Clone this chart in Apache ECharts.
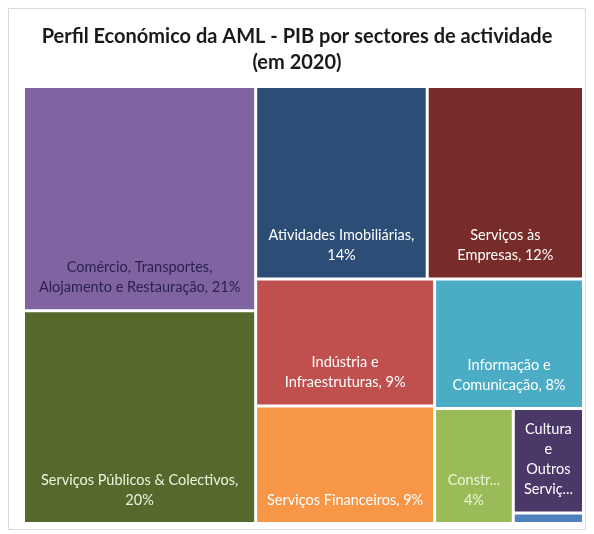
<!DOCTYPE html>
<html>
<head>
<meta charset="utf-8">
<script src="https://cdn.jsdelivr.net/npm/echarts@6/dist/echarts.min.js"></script>
<style>
  html, body { margin: 0; padding: 0; background: #fff; }
  #chart { width: 594px; height: 534px; }
</style>
</head>
<body>
<div id="chart"></div>
<script>
// PIB da AML por sector (% do total, 2020)
var sectors = [
  'Comércio, Transportes, Alojamento e Restauração',
  'Serviços Públicos & Colectivos',
  'Atividades Imobiliárias',
  'Serviços às Empresas',
  'Indústria e Infraestruturas',
  'Serviços Financeiros',
  'Informação e Comunicação',
  'Construção',
  'Cultura e Outros Serviços',
  'Agricultura e Pescas'
]
var pib = [21.3, 20.2, 13.5, 12.3, 9.3, 8.6, 7.9, 3.7, 3.0, 0.3]
// nomes como aparecem nas etiquetas (quebras de linha / cortes do original)
var labelNames = [
  'Comércio, Transportes,\nAlojamento e Restauração, ',
  'Serviços Públicos & Colectivos,\n',
  'Atividades Imobiliárias,\n',
  'Serviços às\nEmpresas, ',
  'Indústria e\nInfraestruturas, ',
  'Serviços Financeiros, ',
  'Informação e\nComunicação, ',
  'Constr...\n',
  'Cultura\ne\nOutros\nServiç...',
  ''
]
var showValue = [true, true, true, true, true, true, true, true, false, false]
var colors = ['#8064A2', '#56692C', '#2C4D75', '#772C2A', '#C0504D', '#F79646', '#4BACC6', '#9BBB59', '#4A3868', '#4F81BD']
var labelColors = ['#2b2150', '#eef2e0', '#ffffff', '#ffffff', '#ffffff', '#ffffff', '#ffffff', '#eef5dc', '#ffffff', '#ffffff']

var chart = echarts.init(document.getElementById('chart'))

var data = sectors.map(function(name, i) {
  return {
    name: name,
    value: pib[i],
    itemStyle: { color: colors[i] },
    label: {
      show: labelNames[i] !== '',
      color: labelColors[i],
      formatter: function(p) {
        return labelNames[i] + (showValue[i] ? Math.round(p.value) + '%' : '')
      }
    }
  }
})

chart.setOption({
  animation: false,
  title: {
    text: 'Perfil Económico da AML - PIB por sectores de actividade\n(em 2020)',
    left: 'center',
    top: 19,
    textStyle: {
      fontFamily: 'Lato',
      fontSize: 20,
      fontWeight: 'bold',
      color: '#1a1a1a',
      lineHeight: 26
    }
  },
  graphic: [{
    type: 'rect',
    shape: { x: 8.5, y: 8.5, width: 577, height: 521 },
    style: { fill: 'none', stroke: '#d9d9d9', lineWidth: 1 },
    silent: true
  }],
  series: [{
    type: 'treemap',
    left: 24,
    top: 87,
    width: 559,
    height: 436,
    roam: false,
    nodeClick: false,
    sort: false,
    squareRatio: 1,
    breadcrumb: { show: false },
    label: {
      position: 'insideBottom',
      distance: 7,
      fontFamily: 'Lato',
      fontSize: 14.5,
      lineHeight: 20,
      align: 'center'
    },
    levels: [{
      itemStyle: { borderWidth: 1, borderColor: '#fff', gapWidth: 3 }
    }],
    data: data
  }]
})
</script>
</body>
</html>
